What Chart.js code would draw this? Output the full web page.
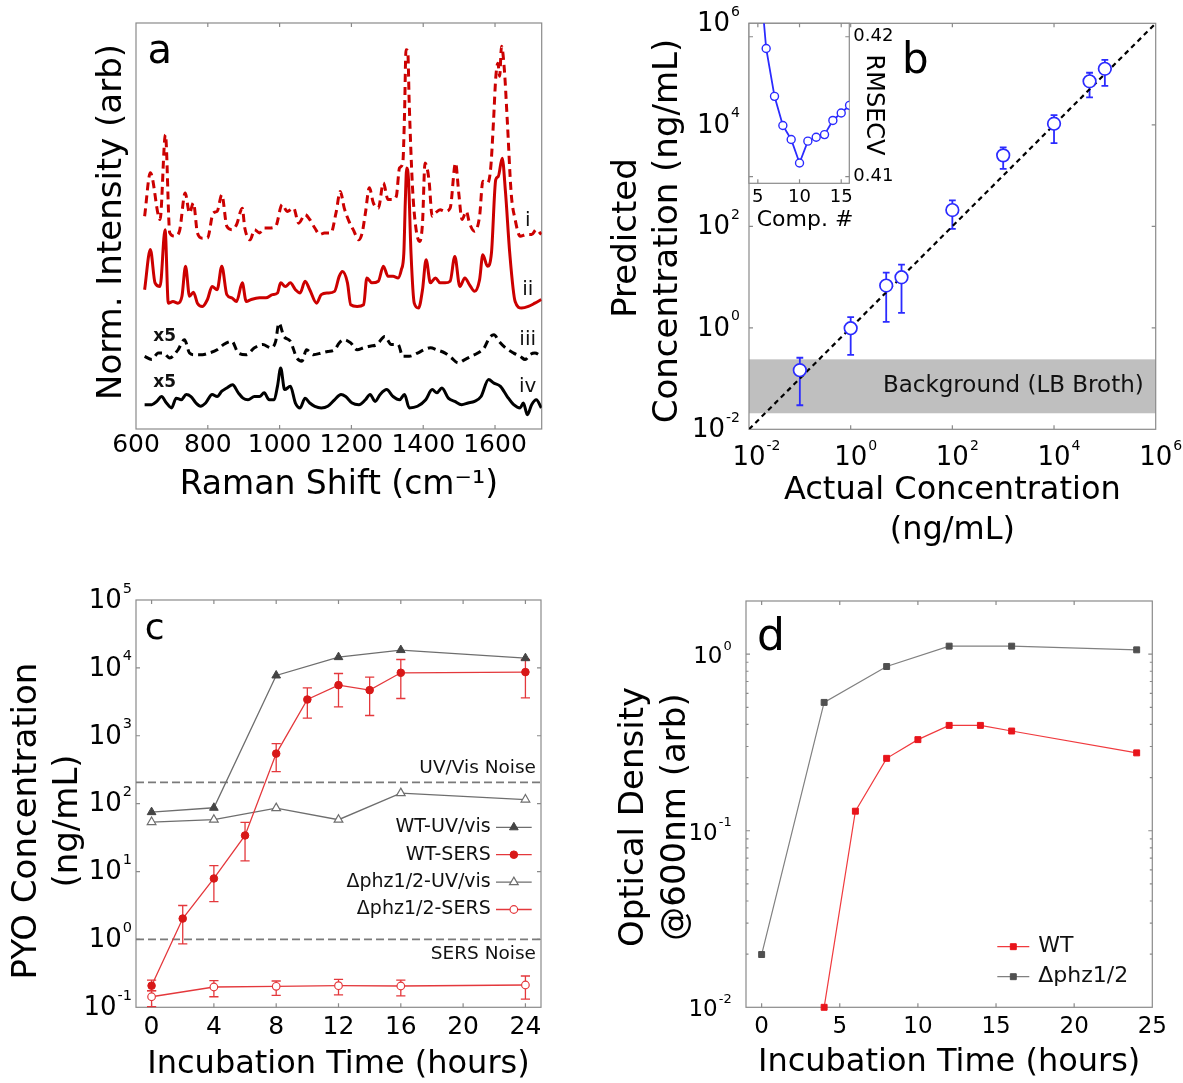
<!DOCTYPE html>
<html lang="en">
<head>
<meta charset="UTF-8">
<title>Pyocyanin detection by SERS</title>
<script src="https://cdn.jsdelivr.net/npm/chart.js@4"></script>
<style>
  body { margin: 0; background: #fff; }
  #figure { position: relative; width: 1183px; height: 1083px; overflow: hidden; }
  #figure canvas { position: absolute; left: 0; top: 0; }
</style>
</head>
<body>
<div id="figure">
  <canvas id="spectra" width="1183" height="1083"></canvas>
  <canvas id="calibration" width="1183" height="1083"></canvas>
  <canvas id="components" width="1183" height="1083"></canvas>
  <canvas id="pyocyanin" width="1183" height="1083"></canvas>
  <canvas id="growth" width="1183" height="1083"></canvas>
</div>
<script>
// (a) Raman spectra, stacked with an offset (arb. units); iii and iv are scaled x5
const shiftTicks = [600, 800, 1000, 1200, 1400, 1600];
const shiftI = [624, 640, 667, 682, 694, 708, 721, 737, 749, 760, 771, 785, 799, 815, 826, 839, 853, 867, 880, 896,
  903, 918, 930, 944, 957, 971, 989, 1007, 1021, 1039, 1053, 1071, 1084, 1098, 1112, 1125, 1143, 1157, 1169, 1180,
  1193, 1205, 1221, 1230, 1239, 1250, 1261, 1275, 1289, 1302, 1314, 1325, 1334, 1343, 1348, 1352, 1357, 1361, 1370, 1379,
  1390, 1398, 1405, 1416, 1425, 1434, 1447, 1461, 1475, 1490, 1499, 1508, 1520, 1529, 1543, 1557, 1566, 1579, 1588, 1596,
  1602, 1608, 1613, 1618, 1626, 1634, 1645, 1656, 1670, 1688, 1702, 1715, 1729];
const intI = [52.4, 63.1, 51.6, 72.5, 48.3, 47.5, 48.7, 58.1, 53.2, 55.7, 48.3, 47.0, 47.0, 53.2, 53.6, 57.7, 49.9, 49.1, 50.3, 54.4,
  49.5, 46.6, 49.1, 48.3, 49.5, 49.5, 49.9, 55.3, 53.6, 54.4, 50.7, 52.8, 51.6, 49.5, 47.9, 48.3, 48.3, 53.2, 58.5, 54.4,
  51.2, 49.1, 46.6, 48.3, 53.2, 59.4, 55.7, 54.4, 60.6, 56.5, 56.5, 57.3, 64.3, 65.5, 77.8, 93.4, 93.0, 80.3, 59.8, 49.9,
  46.2, 50.7, 65.5, 61.4, 52.4, 53.2, 54.0, 53.6, 54.4, 65.5, 58.1, 51.6, 53.6, 50.7, 48.7, 52.4, 61.0, 60.6, 64.3, 76.2,
  86.5, 90.1, 86.9, 94.3, 88.5, 76.2, 58.1, 51.6, 47.5, 47.9, 47.9, 49.1, 47.9];
const shiftII = [624, 640, 653, 667, 681, 690, 703, 717, 728, 738, 749, 760, 771, 785, 799, 812, 826, 839, 853, 867,
  880, 896, 907, 921, 944, 962, 980, 994, 1003, 1016, 1030, 1044, 1057, 1071, 1084, 1103, 1116, 1134, 1153, 1166,
  1175, 1189, 1198, 1216, 1234, 1243, 1257, 1275, 1289, 1302, 1316, 1330, 1339, 1346, 1350, 1354, 1359, 1366, 1375, 1387,
  1398, 1408, 1420, 1434, 1447, 1461, 1475, 1488, 1502, 1516, 1529, 1543, 1557, 1566, 1579, 1590, 1602, 1609, 1620, 1629,
  1641, 1656, 1674, 1693, 1711, 1729];
const intII = [34.3, 44.2, 36.0, 35.1, 49.1, 31.0, 31.4, 31.0, 32.7, 40.1, 32.7, 33.7, 31.0, 30.2, 31.9, 35.1, 34.3, 40.1, 33.1, 32.3,
  31.4, 36.0, 31.4, 31.9, 32.3, 32.3, 33.1, 33.5, 36.0, 35.1, 36.0, 34.3, 33.5, 36.4, 34.3, 31.0, 33.1, 33.5, 33.9, 37.6,
  38.8, 36.0, 30.6, 30.2, 30.6, 37.2, 36.0, 36.4, 40.1, 37.6, 37.6, 37.2, 39.2, 43.3, 55.7, 64.3, 61.4, 43.3, 31.0, 29.8,
  34.3, 41.7, 36.0, 37.2, 36.0, 36.0, 36.4, 42.5, 35.1, 37.2, 35.5, 33.9, 36.8, 42.9, 40.1, 43.3, 61.4, 62.2, 66.7, 58.5,
  43.3, 31.4, 29.8, 30.2, 31.0, 31.9];
const shiftIII = [624, 644, 662, 676, 694, 717, 735, 749, 762, 785, 803, 826, 844, 867, 885, 907, 930, 953, 976, 989,
  998, 1012, 1030, 1048, 1062, 1075, 1094, 1116, 1134, 1153, 1166, 1180, 1198, 1216, 1234, 1252, 1271, 1293, 1311, 1330,
  1343, 1361, 1384, 1402, 1420, 1438, 1461, 1479, 1497, 1516, 1534, 1552, 1570, 1584, 1597, 1611, 1629, 1652, 1670, 1684,
  1697, 1711, 1729];
const intIII = [17.9, 17.1, 18.7, 18.7, 17.5, 19.5, 22.0, 18.7, 18.3, 18.3, 18.7, 19.5, 20.8, 21.6, 18.7, 18.3, 20.0, 20.8, 20.0, 21.6,
  26.1, 22.8, 21.6, 17.5, 16.7, 19.5, 18.3, 18.7, 19.1, 19.5, 21.2, 22.0, 21.2, 19.5, 20.0, 20.4, 20.8, 22.8, 20.8, 20.8,
  17.9, 17.9, 18.7, 19.5, 20.0, 19.5, 18.7, 17.5, 16.3, 17.1, 17.9, 18.7, 20.0, 22.4, 23.2, 21.6, 20.0, 18.7, 17.9, 17.1,
  18.3, 18.7, 17.9];
const shiftIV = [624, 644, 658, 671, 685, 699, 712, 726, 740, 753, 767, 780, 794, 812, 826, 839, 853, 869, 885, 898,
  912, 930, 944, 957, 971, 985, 994, 1003, 1014, 1030, 1044, 1057, 1071, 1084, 1098, 1116, 1134, 1153, 1171, 1184,
  1202, 1221, 1239, 1252, 1266, 1280, 1298, 1316, 1334, 1348, 1361, 1384, 1407, 1425, 1438, 1452, 1470, 1488, 1507, 1525,
  1543, 1561, 1582, 1597, 1615, 1634, 1652, 1670, 1679, 1690, 1702, 1715, 1729];
const intIV = [6.0, 6.0, 6.8, 8.0, 6.4, 5.2, 7.6, 7.2, 8.5, 8.0, 6.4, 5.6, 6.4, 8.5, 8.0, 9.3, 10.1, 10.9, 8.9, 7.6,
  7.2, 8.0, 8.0, 8.9, 7.2, 7.2, 10.5, 15.0, 9.7, 10.5, 6.4, 5.2, 7.6, 6.4, 5.6, 5.2, 5.6, 7.2, 8.5, 8.0,
  6.4, 6.0, 7.2, 8.5, 6.8, 8.5, 9.7, 8.0, 7.2, 8.5, 5.2, 5.6, 7.2, 9.7, 8.9, 10.1, 7.6, 6.8, 6.0, 6.4,
  6.8, 8.0, 12.2, 11.3, 10.5, 8.0, 6.0, 5.2, 6.4, 3.5, 6.0, 7.2, 5.2];
const traceNames = ['i', 'ii', 'iii', 'iv'];

// (b) PLS calibration, ng/mL
const concTicks = [1e-2, 1, 1e2, 1e4, 1e6];
const actualConc = [0.1, 1, 5, 10, 100, 1000, 10000, 50000, 100000];
const predictedConc = [0.146, 0.98, 6.8, 9.9, 209, 2500, 10500, 72000, 127000];
const predictedLow = [0.0298, 0.293, 1.31, 1.96, 88.7, 1355, 4360, 34800, 58500];
const predictedHigh = [0.257, 1.62, 12.2, 17.5, 325, 3590, 15500, 106000, 191000];
const brothBackground = [0.0207, 0.239];
const identityLine = [1e-2, 1e6];

// (b, inset) cross-validation error vs number of PLS components
const compTicks = [5, 10, 15];
const rmsecvTicks = [0.41, 0.42];
const componentNo = [5, 6, 7, 8, 9, 10, 11, 12, 13, 14, 15, 16];
const rmsecv = [0.4260, 0.41916, 0.41574, 0.41366, 0.41266, 0.41098, 0.41254, 0.41282, 0.41301, 0.41402, 0.41455, 0.41510];

// (c) pyocyanin concentration, ng/mL
const hourTicksC = [0, 4, 8, 12, 16, 20, 24];
const pyoTicks = [0.1, 1, 10, 100, 1000, 10000, 100000];
const hoursUv = [0, 4, 8, 12, 16, 24];
const wtUvVis = [75, 87, 7730, 14400, 18300, 13900];
const mutUvVis = [53.6, 58, 86, 58, 143, 115];
const hoursWtSers = [0, 2, 4, 6, 8, 10, 12, 14, 16, 24];
const wtSers = [0.208, 2.03, 7.9, 34, 546, 3420, 5570, 4700, 8470, 8670];
const wtSersLow = [0.176, 0.86, 3.6, 14.4, 296, 1815, 2670, 1990, 3540, 3620];
const wtSersHigh = [0.252, 3.16, 12.2, 53, 767, 5080, 8270, 7310, 13300, 13300];
const hoursMutSers = [0, 4, 8, 12, 16, 24];
const mutSers = [0.143, 0.199, 0.204, 0.208, 0.206, 0.213];
const mutSersLow = [0.102, 0.143, 0.150, 0.152, 0.147, 0.132];
const mutSersHigh = [0.174, 0.247, 0.244, 0.258, 0.252, 0.289];
const noiseLevels = [206, 1.0];
const noiseNames = ['UV/Vis Noise', 'SERS Noise'];

// (d) optical density at 600 nm
const hourTicksD = [0, 5, 10, 15, 20, 25];
const odTicks = [0.01, 0.1, 1];
const odMinorTicks = [0.02, 0.03, 0.04, 0.05, 0.06, 0.07, 0.08, 0.09, 0.2, 0.3, 0.4, 0.5, 0.6, 0.7, 0.8, 0.9];
const hoursWtOd = [4, 6, 8, 10, 12, 14, 16, 24];
const wtOd = [0.01, 0.129, 0.257, 0.328, 0.395, 0.395, 0.367, 0.276];
const hoursMutOd = [0, 4, 8, 12, 16, 24];
const mutOd = [0.0199, 0.533, 0.851, 1.11, 1.11, 1.058];

const FONT = "'DejaVu Sans', Verdana, sans-serif";
const RED_A = '#cc0000';
const BLUE = '#2b2bff';
const RED_C = '#e4383c';
const GRAY_C = '#6e6e6e';

Chart.defaults.font.family = FONT;
Chart.defaults.color = '#000';
Chart.defaults.animation = false;
Chart.defaults.responsive = false;
Chart.defaults.events = [];
Chart.defaults.plugins.legend.display = false;
Chart.defaults.plugins.tooltip.enabled = false;

const pts = (xs, ys) => xs.map((x, i) => ({x, y: ys[i]}));
const useTicks = vals => scale => { scale.ticks = vals.map(value => ({value})); };
const noGrid = {display: false, drawTicks: false};
const noBorder = {display: false};

// x axis with a fixed height, labels from a tick list
function xAxis(o) {
  return {
    type: o.type || 'linear', min: o.min, max: o.max,
    grid: noGrid, border: noBorder,
    afterBuildTicks: o.ticks ? useTicks(o.ticks) : undefined,
    afterFit: s => { s.height = o.height; },
    ticks: {
      display: !!o.ticks, autoSkip: false, minRotation: 0, maxRotation: 0,
      padding: o.pad, font: {size: o.tickSize}, callback: v => String(v)
    },
    title: {display: true, text: o.title, padding: 0, font: {size: o.titleSize, lineHeight: o.lineHeight}}
  };
}

function marker(ctx, style, r, x, y) {
  ctx.beginPath();
  if (style === 'circle') {
    ctx.arc(x, y, r, 0, Math.PI * 2);
  } else if (style === 'triangle') {
    ctx.moveTo(x, y - r);
    ctx.lineTo(x + 0.866 * r, y + 0.5 * r);
    ctx.lineTo(x - 0.866 * r, y + 0.5 * r);
  } else {
    const s = r * Math.SQRT1_2;
    ctx.rect(x - s, y - s, 2 * s, 2 * s);
  }
  ctx.closePath();
  ctx.fill();
  ctx.stroke();
}

// grey box round the plot area with short inward ticks
function frame(o) {
  return {
    id: 'frame',
    beforeDraw(chart) {
      if (!o.fill) return;
      const {ctx, chartArea: a} = chart;
      ctx.save();
      ctx.fillStyle = o.fill;
      ctx.fillRect(a.left, a.top, a.width, a.height);
      ctx.restore();
    },
    beforeDatasetsDraw(chart) {
      const {ctx, chartArea: a, scales} = chart;
      ctx.save();
      ctx.strokeStyle = '#8a8a8a';
      ctx.lineWidth = 1.2;
      ctx.strokeRect(a.left, a.top, a.width, a.height);
      ctx.beginPath();
      const xMarks = (vals, len) => (vals || []).forEach(v => {
        const p = scales.x.getPixelForValue(v);
        if (p <= a.left + 1 || p >= a.right - 1) return;
        ctx.moveTo(p, a.bottom); ctx.lineTo(p, a.bottom - len);
        ctx.moveTo(p, a.top); ctx.lineTo(p, a.top + len);
      });
      const yMarks = (vals, len) => (vals || []).forEach(v => {
        const p = scales.y.getPixelForValue(v);
        if (p <= a.top + 1 || p >= a.bottom - 1) return;
        ctx.moveTo(a.left, p); ctx.lineTo(a.left + len, p);
        ctx.moveTo(a.right, p); ctx.lineTo(a.right - len, p);
      });
      xMarks(o.x, 4);
      yMarks(o.y, 4);
      yMarks(o.yMinor, 2.5);
      ctx.stroke();
      ctx.restore();
    }
  };
}

// "10" with a raised exponent, for the log axes
function drawPower(ctx, v, x, y, o, align) {
  const exp = String(Math.round(Math.log10(v)));
  ctx.font = `${o.size}px ${FONT}`;
  const wBase = ctx.measureText('10').width;
  ctx.font = `${o.exp}px ${FONT}`;
  const wExp = ctx.measureText(exp).width;
  const left = align === 'right' ? x - wBase - wExp - 1 : x - wBase / 2;
  ctx.textAlign = 'left';
  ctx.textBaseline = 'middle';
  ctx.font = `${o.size}px ${FONT}`;
  ctx.fillText('10', left, y);
  ctx.textBaseline = 'alphabetic';
  ctx.font = `${o.exp}px ${FONT}`;
  ctx.fillText(exp, left + wBase + 1, y - 0.383 * o.size + 1.5);
}

function powerLabels(spec) {
  return {
    id: 'powerLabels',
    afterDraw(chart) {
      const {ctx, scales} = chart;
      ctx.save();
      ctx.fillStyle = '#000';
      if (spec.y) spec.y.values.forEach(v => {
        drawPower(ctx, v, spec.y.right, scales.y.getPixelForValue(v) + spec.y.dy, spec.y, 'right');
      });
      if (spec.x) spec.x.values.forEach(v => {
        drawPower(ctx, v, scales.x.getPixelForValue(v), spec.x.y, spec.x, 'center');
      });
      ctx.restore();
    }
  };
}

// free text in page pixels (axis titles, panel letters)
function captions(items) {
  return {
    id: 'captions',
    afterDraw(chart) {
      const ctx = chart.ctx;
      items.forEach(t => {
        ctx.save();
        ctx.translate(t.x, t.y);
        ctx.rotate((t.rotate || 0) * Math.PI / 180);
        ctx.font = `${t.size}px ${FONT}`;
        ctx.fillStyle = '#000';
        ctx.textAlign = t.align || 'center';
        ctx.textBaseline = t.baseline || 'middle';
        ctx.fillText(t.text, 0, 0);
        ctx.restore();
      });
    }
  };
}

// text placed in data coordinates
function notes(items) {
  return {
    id: 'notes',
    afterDatasetsDraw(chart) {
      const {ctx, scales: {x, y}} = chart;
      ctx.save();
      ctx.fillStyle = '#111';
      ctx.textAlign = 'center';
      ctx.textBaseline = 'middle';
      items.forEach(t => {
        ctx.font = `${t.bold ? 'bold ' : ''}${t.size}px ${FONT}`;
        ctx.fillText(t.text, x.getPixelForValue(t.x), y.getPixelForValue(t.y));
      });
      ctx.restore();
    }
  };
}

function errorBars(width, cap) {
  return {
    id: 'errorBars',
    beforeDatasetsDraw(chart) {
      const {ctx, scales: {x, y}} = chart;
      ctx.save();
      ctx.lineWidth = width;
      chart.data.datasets.forEach(ds => {
        if (!ds.errLow) return;
        ctx.strokeStyle = ds.borderColor;
        ctx.beginPath();
        ds.data.forEach((p, i) => {
          const px = x.getPixelForValue(p.x);
          const lo = y.getPixelForValue(ds.errLow[i]);
          const hi = y.getPixelForValue(ds.errHigh[i]);
          ctx.moveTo(px, lo); ctx.lineTo(px, hi);
          ctx.moveTo(px - cap, lo); ctx.lineTo(px + cap, lo);
          ctx.moveTo(px - cap, hi); ctx.lineTo(px + cap, hi);
        });
        ctx.stroke();
      });
      ctx.restore();
    }
  };
}

function band(o) {
  return {
    id: 'band',
    beforeDraw(chart) {
      const {ctx, chartArea: a, scales: {y}} = chart;
      const top = y.getPixelForValue(o.range[1]);
      const bottom = y.getPixelForValue(o.range[0]);
      ctx.save();
      ctx.fillStyle = '#bfbfbf';
      ctx.fillRect(a.left, top, a.width, bottom - top);
      ctx.fillStyle = '#111';
      ctx.font = `${o.size}px ${FONT}`;
      ctx.textAlign = 'right';
      ctx.textBaseline = 'middle';
      ctx.fillText(o.text, a.right - 12, (top + bottom) / 2);
      ctx.restore();
    }
  };
}

function noise(o) {
  return {
    id: 'noise',
    beforeDatasetsDraw(chart) {
      const {ctx, chartArea: a, scales: {y}} = chart;
      ctx.save();
      o.values.forEach((v, i) => {
        const py = y.getPixelForValue(v);
        ctx.strokeStyle = '#7a7a7a';
        ctx.lineWidth = 1.6;
        ctx.setLineDash([8, 4]);
        ctx.beginPath();
        ctx.moveTo(a.left, py);
        ctx.lineTo(a.right, py);
        ctx.stroke();
        ctx.setLineDash([]);
        ctx.fillStyle = '#111';
        ctx.font = `${o.size}px ${FONT}`;
        ctx.textAlign = 'right';
        ctx.textBaseline = 'middle';
        ctx.fillText(o.labels[i], a.right - 5, py + o.shifts[i]);
      });
      ctx.restore();
    }
  };
}

// legend drawn inside the plot, one row per dataset
function key(o) {
  return {
    id: 'key',
    afterDatasetsDraw(chart) {
      const ctx = chart.ctx;
      ctx.save();
      ctx.font = `${o.size}px ${FONT}`;
      ctx.textBaseline = 'middle';
      chart.data.datasets.forEach((ds, i) => {
        const y = o.top + i * o.step;
        ctx.strokeStyle = ds.borderColor;
        ctx.lineWidth = ds.borderWidth;
        ctx.beginPath();
        ctx.moveTo(o.left, y);
        ctx.lineTo(o.left + o.len, y);
        ctx.stroke();
        ctx.fillStyle = ds.pointBackgroundColor;
        ctx.strokeStyle = ds.pointBorderColor;
        ctx.lineWidth = ds.pointBorderWidth;
        marker(ctx, ds.pointStyle, ds.pointRadius, o.left + o.len / 2, y);
        ctx.fillStyle = '#111';
        if (o.textLeft) {
          ctx.textAlign = 'right';
          ctx.fillText(ds.label, o.left - o.gap, y);
        } else {
          ctx.textAlign = 'left';
          ctx.fillText(ds.label, o.left + o.len + o.gap, y);
        }
      });
      ctx.restore();
    }
  };
}

function trace(xs, ys, color, dashed) {
  return {
    data: pts(xs, ys), borderColor: color, borderWidth: 3, borderDash: dashed ? [8, 5] : [],
    borderJoinStyle: 'round', cubicInterpolationMode: 'monotone', pointRadius: 0
  };
}

// ---- (a) ----
new Chart(document.getElementById('spectra'), {
  type: 'line',
  data: {
    datasets: [
      trace(shiftI, intI, RED_A, true),
      trace(shiftII, intII, RED_A, false),
      trace(shiftIII, intIII, '#000', true),
      trace(shiftIV, intIV, '#000', false)
    ]
  },
  options: {
    layout: {padding: {left: 136, top: 23, right: 641.3, bottom: 578.2}},
    scales: {
      x: xAxis({min: 600, max: 1730, ticks: shiftTicks, height: 75.8, pad: 1, tickSize: 25,
        title: 'Raman Shift (cm⁻¹)', titleSize: 33, lineHeight: 1.2}),
      y: {display: false, min: 0, max: 100}
    }
  },
  plugins: [
    frame({x: shiftTicks}),
    notes([
      {text: 'x5', x: 680, y: 22.8, size: 17, bold: true},
      {text: 'x5', x: 680, y: 11.5, size: 17, bold: true},
      {text: traceNames[0], x: 1691, y: 51.4, size: 20},
      {text: traceNames[1], x: 1691, y: 34.2, size: 20},
      {text: traceNames[2], x: 1691, y: 22.0, size: 20},
      {text: traceNames[3], x: 1691, y: 10.5, size: 20}
    ]),
    captions([
      {text: 'Norm. Intensity (arb)', x: 112, y: 222, size: 34, rotate: -90},
      {text: 'a', x: 147.6, y: 63.3, size: 40, align: 'left', baseline: 'alphabetic'}
    ])
  ]
});

// ---- (b) ----
new Chart(document.getElementById('calibration'), {
  type: 'line',
  data: {
    datasets: [
      {data: pts(actualConc, predictedConc), showLine: false, borderColor: BLUE, pointStyle: 'circle', pointRadius: 6.3,
        pointBorderWidth: 1.7, pointBorderColor: BLUE, pointBackgroundColor: '#fff', errLow: predictedLow, errHigh: predictedHigh},
      {data: pts(identityLine, identityLine), borderColor: '#000', borderWidth: 2.2, borderDash: [5, 4], pointRadius: 0}
    ]
  },
  options: {
    layout: {padding: {left: 749, top: 23.3, right: 27.3, bottom: 532}},
    scales: {
      x: xAxis({type: 'logarithmic', min: 1e-2, max: 1e6, height: 121.7,
        title: ['Actual Concentration', '(ng/mL)'], titleSize: 32, lineHeight: 1.25}),
      y: {type: 'logarithmic', display: false, min: 1e-2, max: 1e6}
    }
  },
  plugins: [
    frame({x: concTicks, y: concTicks}),
    band({range: brothBackground, text: 'Background (LB Broth)', size: 23}),
    errorBars(1.8, 3.4),
    powerLabels({
      y: {values: concTicks, size: 26, exp: 14, right: 740, dy: 1},
      x: {values: concTicks, size: 26, exp: 14, y: 458.3}
    }),
    captions([
      {text: 'Predicted', x: 627, y: 238, size: 34, rotate: -90},
      {text: 'Concentration (ng/mL)', x: 668, y: 231, size: 34, rotate: -90},
      {text: 'b', x: 902, y: 73.3, size: 42, align: 'left', baseline: 'alphabetic'}
    ])
  ]
});

// ---- (b) inset ----
new Chart(document.getElementById('components'), {
  type: 'line',
  data: {
    datasets: [{
      data: pts(componentNo, rmsecv), borderColor: BLUE, borderWidth: 1.8, pointStyle: 'circle', pointRadius: 4,
      pointBorderWidth: 1.4, pointBorderColor: BLUE, pointBackgroundColor: '#fff'
    }]
  },
  options: {
    layout: {padding: {left: 749, top: 23.3, right: 288.7, bottom: 869.7}},
    scales: {
      x: {
        type: 'linear', min: 3.94, max: 15.97, grid: noGrid, border: noBorder,
        afterBuildTicks: useTicks(compTicks), afterFit: s => { s.height = 30; },
        ticks: {autoSkip: false, maxRotation: 0, padding: 3.2, font: {size: 18}, callback: v => String(v)}
      },
      y: {
        type: 'linear', position: 'right', min: 0.40953, max: 0.42096, grid: noGrid, border: noBorder,
        afterBuildTicks: useTicks(rmsecvTicks), afterFit: s => { s.width = 45; },
        ticks: {autoSkip: false, padding: 4, font: {size: 18}, callback: v => v.toFixed(2)}
      }
    }
  },
  plugins: [
    frame({x: compTicks, y: rmsecvTicks, fill: '#fff'}),
    captions([
      {text: 'RMSECV', x: 873.5, y: 105, size: 24, rotate: 90},
      {text: 'Comp. #', x: 805, y: 220, size: 22}
    ])
  ]
});

// ---- (c) ----
new Chart(document.getElementById('pyocyanin'), {
  type: 'line',
  data: {
    datasets: [
      {label: 'WT-UV/vis', data: pts(hoursUv, wtUvVis), borderColor: GRAY_C, borderWidth: 1.3, pointStyle: 'triangle',
        pointRadius: 5, pointBorderWidth: 1, pointBorderColor: '#444', pointBackgroundColor: '#444'},
      {label: 'WT-SERS', data: pts(hoursWtSers, wtSers), borderColor: RED_C, borderWidth: 1.3, pointStyle: 'circle',
        pointRadius: 3.8, pointBorderWidth: 1, pointBorderColor: '#d81818', pointBackgroundColor: '#d81818',
        errLow: wtSersLow, errHigh: wtSersHigh},
      {label: 'Δphz1/2-UV/vis', data: pts(hoursUv, mutUvVis), borderColor: GRAY_C, borderWidth: 1.3, pointStyle: 'triangle',
        pointRadius: 5, pointBorderWidth: 1.2, pointBorderColor: GRAY_C, pointBackgroundColor: '#fff'},
      {label: 'Δphz1/2-SERS', data: pts(hoursMutSers, mutSers), borderColor: RED_C, borderWidth: 1.3, pointStyle: 'circle',
        pointRadius: 3.8, pointBorderWidth: 1.2, pointBorderColor: RED_C, pointBackgroundColor: '#fff',
        errLow: mutSersLow, errHigh: mutSersHigh}
    ]
  },
  options: {
    layout: {padding: {left: 136, top: 600, right: 642, bottom: 2}},
    scales: {
      x: xAxis({min: -1, max: 25, ticks: hourTicksC, height: 73.7, pad: 5.2, tickSize: 25,
        title: 'Incubation Time (hours)', titleSize: 32, lineHeight: 1.0}),
      y: {type: 'logarithmic', display: false, min: 0.1, max: 1e5}
    }
  },
  plugins: [
    frame({x: hourTicksC, y: pyoTicks}),
    noise({values: noiseLevels, labels: noiseNames, shifts: [-14, 14.7], size: 18.5}),
    errorBars(1.3, 4.6),
    powerLabels({y: {values: pyoTicks, size: 26, exp: 14.5, right: 132, dy: 1}}),
    key({left: 496, len: 35.7, top: 827.3, step: 27.4, size: 19, gap: 5.3, textLeft: true}),
    captions([
      {text: 'PYO Concentration', x: 27, y: 821, size: 34, rotate: -90},
      {text: '(ng/mL)', x: 68, y: 821, size: 34, rotate: -90},
      {text: 'c', x: 144.7, y: 639, size: 36, align: 'left', baseline: 'alphabetic'}
    ])
  ]
});

// ---- (d) ----
new Chart(document.getElementById('growth'), {
  type: 'line',
  data: {
    datasets: [
      {label: 'WT', data: pts(hoursWtOd, wtOd), borderColor: '#f03a3e', borderWidth: 1.2, pointStyle: 'rect',
        pointRadius: 4.2, pointBorderWidth: 1, pointBorderColor: '#e8141b', pointBackgroundColor: '#e8141b', clip: false},
      {label: 'Δphz1/2', data: pts(hoursMutOd, mutOd), borderColor: '#808080', borderWidth: 1.2, pointStyle: 'rect',
        pointRadius: 4.2, pointBorderWidth: 1, pointBorderColor: '#505050', pointBackgroundColor: '#505050', clip: false}
    ]
  },
  options: {
    layout: {padding: {left: 746, top: 601, right: 30.7, bottom: 4}},
    scales: {
      x: xAxis({min: -1, max: 25, ticks: hourTicksD, height: 71.7, pad: 5.6, tickSize: 23,
        title: 'Incubation Time (hours)', titleSize: 32, lineHeight: 1.0}),
      y: {type: 'logarithmic', display: false, min: 0.01, max: 2}
    }
  },
  plugins: [
    frame({x: hourTicksD, y: odTicks, yMinor: odMinorTicks}),
    powerLabels({y: {values: odTicks, size: 23, exp: 13, right: 731.7, dy: 3}}),
    key({left: 997.3, len: 32, top: 946.7, step: 30, size: 22, gap: 9, textLeft: false}),
    captions([
      {text: 'Optical Density', x: 634, y: 817, size: 34, rotate: -90},
      {text: '@600nm (arb)', x: 676, y: 817, size: 34, rotate: -90},
      {text: 'd', x: 757, y: 650, size: 44, align: 'left', baseline: 'alphabetic'}
    ])
  ]
});
</script>
</body>
</html>
